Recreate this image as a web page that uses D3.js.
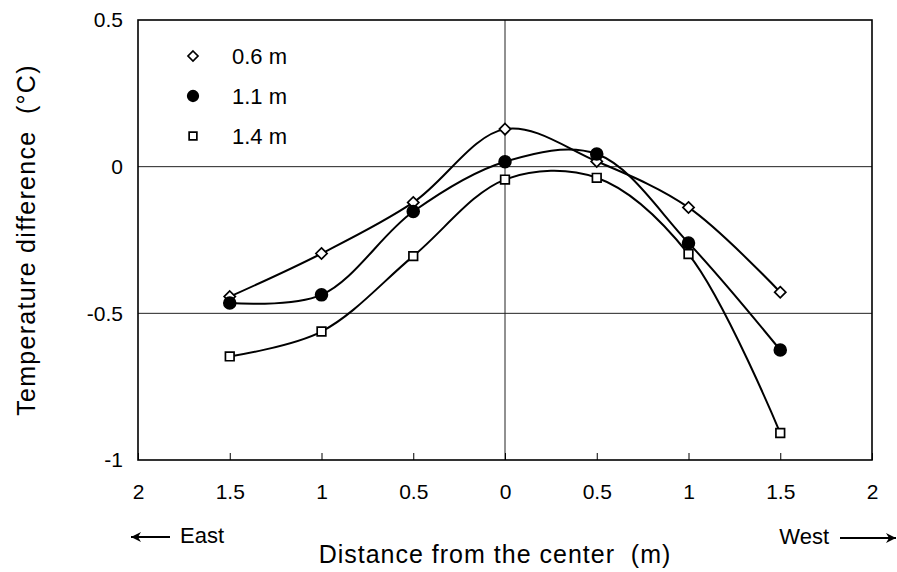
<!DOCTYPE html>
<html>
<head>
<meta charset="utf-8">
<script src="https://cdn.jsdelivr.net/npm/d3@7"></script>
<style>
	body { margin: 0; background: #fff; }
	svg { font-family: 'Liberation Sans', Arial, sans-serif; }
	text { white-space: pre; }
</style>
</head>
<body>
<div id="chart"></div>
<script>
// distance from centre, East negative, West positive (m)
const positions = [-1.5, -1, -0.5, 0, 0.5, 1, 1.5];
const seriesNames = ['0.6 m', '1.1 m', '1.4 m'];
const values06 = [-0.443, -0.296, -0.122, 0.128, 0.018, -0.139, -0.428];
const values11 = [-0.465, -0.437, -0.153, 0.017, 0.043, -0.26, -0.625];
const values14 = [-0.647, -0.562, -0.305, -0.044, -0.038, -0.298, -0.908];
const xTicks = [-2, -1.5, -1, -0.5, 0, 0.5, 1, 1.5, 2];
const yTicks = [0.5, 0, -0.5, -1];

const width = 897;
const height = 572;
const margin = {top: 20, right: 25, bottom: 112, left: 138};

const svg = d3
	.select('#chart')
	.append('svg')
	.attr('width', width)
	.attr('height', height);

const x = d3
	.scaleLinear()
	.domain([-2, 2])
	.range([margin.left, width - margin.right]);

const y = d3
	.scaleLinear()
	.domain([-1, 0.5])
	.range([height - margin.bottom, margin.top]);

// grid lines at 0 and -0.5, and vertical at the centre
svg.append('g')
	.selectAll('line')
	.data([0, -0.5])
	.join('line')
	.attr('x1', x(-2))
	.attr('x2', x(2))
	.attr('y1', d => y(d))
	.attr('y2', d => y(d))
	.attr('stroke', '#222')
	.attr('stroke-width', 1);

svg.append('line')
	.attr('x1', x(0))
	.attr('x2', x(0))
	.attr('y1', y(0.5))
	.attr('y2', y(-1))
	.attr('stroke', '#222')
	.attr('stroke-width', 1);

// frame
svg.append('rect')
	.attr('x', x(-2))
	.attr('y', y(0.5))
	.attr('width', x(2) - x(-2))
	.attr('height', y(-1) - y(0.5))
	.attr('fill', 'none')
	.attr('stroke', '#000')
	.attr('stroke-width', 1.6);

// bottom axis, ticks pointing inward
const xAxis = svg.append('g')
	.attr('transform', `translate(0,${y(-1)})`)
	.call(
		d3.axisBottom(x)
			.tickValues(xTicks)
			.tickSize(-7)
			.tickPadding(24)
			.tickFormat(d => String(Math.abs(d)))
	);
xAxis.select('.domain').remove();
xAxis.selectAll('line').attr('stroke', '#000');
xAxis.selectAll('text')
	.attr('font-size', 21)
	.attr('fill', '#000')
	.attr('font-family', "'Liberation Sans', Arial, sans-serif");

// left axis
const yAxis = svg.append('g')
	.attr('transform', `translate(${x(-2)},0)`)
	.call(
		d3.axisLeft(y)
			.tickValues(yTicks)
			.tickSize(0)
			.tickPadding(15)
			.tickFormat(d => String(d))
	);
yAxis.select('.domain').remove();
yAxis.selectAll('text')
	.attr('font-size', 21)
	.attr('fill', '#000')
	.attr('font-family', "'Liberation Sans', Arial, sans-serif");

// titles
svg.append('text')
	.attr('transform', `translate(35,${(y(0.5) + y(-1)) / 2}) rotate(-90)`)
	.attr('text-anchor', 'middle')
	.attr('font-size', 25)
	.attr('letter-spacing', 1.3)
	.text('Temperature difference  (°C)');

svg.append('text')
	.attr('x', 495)
	.attr('y', 563)
	.attr('text-anchor', 'middle')
	.attr('font-size', 25)
	.attr('letter-spacing', 1)
	.text('Distance from the center  (m)');

// East / West arrows
const arrowY = 537;
svg.append('defs')
	.append('marker')
	.attr('id', 'arrow')
	.attr('viewBox', '0 0 10 10')
	.attr('refX', 10)
	.attr('refY', 5)
	.attr('markerWidth', 16)
	.attr('markerHeight', 10)
	.attr('markerUnits', 'userSpaceOnUse')
	.attr('orient', 'auto')
	.append('path')
	.attr('d', 'M0,0 L10,5 L0,10 L3,5 Z')
	.attr('fill', '#000');

svg.append('line')
	.attr('x1', 170)
	.attr('x2', 131)
	.attr('y1', arrowY)
	.attr('y2', arrowY)
	.attr('stroke', '#000')
	.attr('stroke-width', 2)
	.attr('marker-end', 'url(#arrow)');

svg.append('text')
	.attr('x', 180)
	.attr('y', 543)
	.attr('font-size', 22)
	.text('East');

svg.append('line')
	.attr('x1', 840)
	.attr('x2', 896)
	.attr('y1', arrowY + 1)
	.attr('y2', arrowY + 1)
	.attr('stroke', '#000')
	.attr('stroke-width', 2)
	.attr('marker-end', 'url(#arrow)');

svg.append('text')
	.attr('x', 829)
	.attr('y', 544)
	.attr('text-anchor', 'end')
	.attr('font-size', 22)
	.text('West');

// series
const series = [
	{name: seriesNames[0], values: values06, shape: d3.symbolDiamond2, fill: '#fff', size: 80},
	{name: seriesNames[1], values: values11, shape: d3.symbolCircle, fill: '#000', size: 110},
	{name: seriesNames[2], values: values14, shape: d3.symbolSquare2, fill: '#fff', size: 95},
];

const line = d3
	.line()
	.x(d => x(d[0]))
	.y(d => y(d[1]))
	.curve(d3.curveCatmullRom.alpha(0.5));

series.forEach(s => {
	const pts = positions.map((p, i) => [p, s.values[i]]);

	svg.append('path')
		.datum(pts)
		.attr('d', line)
		.attr('fill', 'none')
		.attr('stroke', '#000')
		.attr('stroke-width', 2);

	svg.append('g')
		.selectAll('path')
		.data(pts)
		.join('path')
		.attr('transform', d => `translate(${x(d[0])},${y(d[1])})`)
		.attr('d', d3.symbol().type(s.shape).size(s.size))
		.attr('fill', s.fill)
		.attr('stroke', '#000')
		.attr('stroke-width', 1.7);
});

// legend
const legend = svg.append('g');
series.forEach((s, i) => {
	const ly = 56 + i * 40;
	legend.append('path')
		.attr('transform', `translate(193,${ly})`)
		.attr('d', d3.symbol().type(s.shape).size(s.size * 0.8))
		.attr('fill', s.fill)
		.attr('stroke', '#000')
		.attr('stroke-width', 1.7);
	legend.append('text')
		.attr('x', 232)
		.attr('y', ly + 8)
		.attr('font-size', 22)
		.text(s.name);
});
</script>
</body>
</html>
